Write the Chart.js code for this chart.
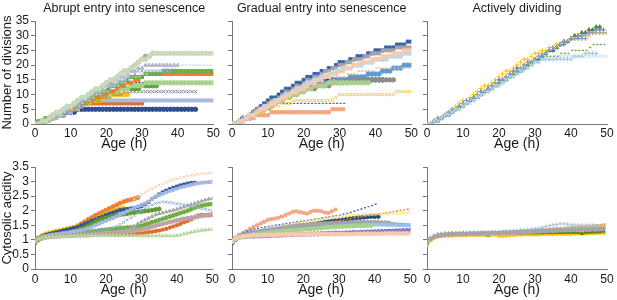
<!DOCTYPE html>
<html>
<head>
<meta charset="utf-8">
<script src="https://cdn.jsdelivr.net/npm/chart.js@4.4.1/dist/chart.umd.min.js"></script>
<style>
  body { margin: 0; background: #fff; width: 617px; height: 300px; position: relative; overflow: hidden; }
  canvas { position: absolute; }
</style>
</head>
<body>
<canvas id="acidAbrupt" width="222" height="150" style="left:0;top:150px"></canvas>
<canvas id="acidGradual" width="198" height="150" style="left:222px;top:150px"></canvas>
<canvas id="acidActive" width="200" height="150" style="left:417px;top:150px"></canvas>
<canvas id="divAbrupt" width="222" height="154" style="left:0;top:0"></canvas>
<canvas id="divGradual" width="198" height="154" style="left:222px;top:0"></canvas>
<canvas id="divActive" width="200" height="154" style="left:417px;top:0"></canvas>
<script>
// age in hours (x axis)
const hours = [0,1,2,3,4,5,6,7,8,9,10,11,12,13,14,15,16,17,18,19,20,21,22,23,24,25,26,27,28,29,30,31,32,33,34,35,36,37,38,39,40,41,42,43,44,45,46,47,48,49,50];

// ---- number of divisions, abrupt entry into senescence
const abNavy = [0,0,1,1,2,2,3,3,3,4,4,4,5,5,5,5,5,5,5,5,5,5,5,5,5,5,5,5,5,5,5,5,5,5,5,5,5,5,5,5,5,5,5,5,5,5];
const abLavender = [0,0,0,1,1,2,2,3,3,4,4,5,5,6,7,8,8,8,8,8,8,8,8,8,8,8,8,8,8,8,8,8,8,8,8,8,8,8,8,8,8,8,8,8,8,8,8,8,8,8,8];
const abOrange7 = [0,1,1,2,2,3,3,3,4,4,5,5,6,6,7,7,7,7,7,7,7,7,7,7,7,7,7,7,7,7,7];
const abOrange17 = [0,0,1,1,2,3,3,4,4,5,5,6,6,7,7,8,8,9,9,10,10,11,11,12,13,13,14,14,15,15,16,17,17,17,17,17,17,17,17,17,17,17,17,17,17,17,17,17,17,17,17];
const abYellow = [0,0,1,1,2,3,3,4,4,5,5,6,6,7,7,7,8,8,8,9,9,10,10,10,10,10,10];
const abGreen13 = [0,0,1,1,2,2,3,4,4,5,5,6,6,7,7,8,8,9,9,10,10,11,11,11,12,12,12,12,12,12,13,13,13,13,13];
const abPaleGreen14 = [0,0,1,1,2,2,3,3,4,5,5,6,6,7,7,8,8,9,9,10,10,10,11,11,12,12,12,13,13,13,13,14,14,14,14,14,14,14,14,14,14,14,14,14,14,14,14,14,14,14,14];
const abGreen18 = [0,1,1,2,2,3,3,4,4,5,6,6,7,7,8,8,9,10,10,11,11,12,13,13,14,14,15,16,16,16,16,17,17,17,17,17,18,18,18,18,18,18,18,18,18,18,18,18,18,18,18];
const abPale24 = [0,0,1,1,2,3,4,4,5,6,6,7,8,9,9,10,11,12,12,13,14,15,15,16,17,18,18,19,20,21,22,22,23,24,24,24,24,24,24,24,24,24,24,24,24,24,24,24,24,24,24];
const abGrey = [0,0,1,1,2,3,3,4,5,6,6,7,8,8,9,10,11,11,12,13,14,14,15,16,17,18,18,19,20,21,22,23,23,24];
const abTri20 = [0,0,1,1,2,3,3,4,5,5,6,7,7,8,9,9,10,11,11,12,13,13,14,15,16,16,17,18,18,19,19,20,20,20,20,20,20,20,20,20,20];
const abPaleBlue20 = [0,0,1,1,2,2,3,3,4,5,5,6,6,7,8,8,9,10,10,11,11,12,13,13,14,14,15,15,16,16,17,17,18,18,18,18,19,19,19,19,20,20,20,20,20,20,20,20,20,20,20];
const abBlueX18 = [0,0,1,1,2,2,3,4,4,5,5,6,7,7,8,9,9,10,11,11,12,13,13,14,15,15,16,16,17,18,18,18,18,18,18,18,18,18,18];
const abGreyX11 = [0,0,1,1,2,2,3,3,4,4,5,5,6,6,7,7,8,8,8,9,9,9,10,10,10,11,11,11,11,11,11,11,11,11,11,11,11,11,11,11,11,11,11,11,11,11];
const abDark14 = [0,1,1,2,2,3,3,4,4,5,6,6,7,7,8,8,9,10,10,11,12,12,13,13,14,14,14,14,14,14,14,14,14,14,14,14];

// ---- number of divisions, gradual entry into senescence
const grNavy = [0,0,1,1,2,3,4,5,6,7,8,9,9,10,11,12,12,13,14,14,15,16,16,17,17,18,18,19,19,20,21,21,21,22,22,23,23,23,24,24,25,25,25,26,26,26,27,27,27,28,28];
const grBlue20 = [0,0,1,1,2,2,3,4,5,5,6,7,7,8,8,9,10,10,11,11,12,12,13,13,14,14,14,14,15,15,15,15,15,16,16,16,16,16,17,17,17,17,18,18,18,19,19,19,20,20,20];
const grDarkNavy15 = [0,0,1,2,2,3,4,5,5,6,7,8,8,9,10,10,11,12,12,13,14,14,15,15,15,15,15,15,15,15,15,15,15,15,15,15,15,15,15,15,15,15,15];
const grGrey15 = [0,0,1,1,2,3,3,4,5,5,6,7,7,8,8,9,9,10,10,11,11,12,12,12,13,13,13,13,14,14,14,14,14,15,15,15,15,15,15,15,15,15,15,15,15,15];
const grSalmon = [0,0,1,1,2,2,2,3,3,3,3,4,4,4,4,4,4,4,4,4,4,4,4,4,4,4,4,4,5,5,5,5];
const grYellowX = [0,0,1,1,2,2,3,3,4,4,5,5,6,6,7,7,7,8,8,8,8,8,8,8,8,8,8,8,8,9,10,10,10,10,10,10,10,10,10,10,10,10,10,10,10,10,11,11,11,11,11];
const grPaleGreen14 = [0,0,1,1,2,3,3,4,5,5,6,6,7,8,8,9,9,10,10,11,11,12,12,13,13,13,13,14,14,14,14,14,14,14,14,14,14,14,14];
const grOrangeDash19 = [0,0,1,1,2,2,3,4,4,5,6,6,7,7,8,9,9,10,10,11,11,12,12,13,13,14,14,15,15,16,16,16,17,17,17,18,18,18,18,18,19,19,19,19,19,19,19,19,19,19,19];
const grPaleBlue24 = [0,0,1,1,2,3,3,4,5,6,6,7,8,8,9,10,10,11,12,12,13,14,14,15,15,16,16,17,17,18,18,19,19,19,20,20,20,21,21,21,22,22,22,22,23,23,23,23,24,24,24];
const grGrey26 = [0,0,1,2,2,3,4,5,5,6,7,8,8,9,10,11,11,12,13,13,14,15,15,16,16,17,18,18,19,19,20,20,21,21,22,22,22,23,23,24,24,24,25,25,25,25,26,26,26,26,26];
const grPeach25 = [0,0,1,1,2,3,3,4,5,5,6,7,7,8,9,9,10,11,11,12,12,13,14,14,15,15,16,16,17,17,18,18,19,19,20,20,21,21,21,22,22,22,23,23,23,24,24,24,25,25,25];
const grBlueDash7 = [0,0,1,1,2,2,3,3,4,5,5,6,7,7,7,7,7,7,7,7,7,7,7,7,7,7,7,7,7,7,7,7];

// ---- number of divisions, actively dividing
const acYellow = [0,0,1,2,2,3,4,5,6,7,8,8,9,10,11,12,13,13,14,15,16,17,18,18,19,20,21,22,22,23,24,24,25,25,26,26,27,27,28,28,29,29,29,30,30,30,31,31,31,31,31];
const acBlue = [0,0,1,1,2,3,4,4,5,6,7,8,8,9,10,11,11,12,13,14,15,15,16,17,18,19,19,20,21,21,22,23,23,24,25,25,26,27,27,28,29,29,30,30,31,31,31,32,32,32];
const acGreenTri = [0,0,1,1,2,3,3,4,5,6,6,7,8,9,9,10,11,12,12,13,14,15,15,16,17,18,18,19,20,21,22,22,23,24,25,25,26,27,28,28,29,30,30,31,31,32,32,33,33];
const acGreenDash = [0,0,1,1,2,3,3,4,5,6,6,7,8,8,9,10,11,11,12,13,14,14,15,16,17,17,18,19,20,20,21,22,22,23,23,23,23,24,24,24,25,25,25,25,25,26,27,27,27,27,27];
const acPaleBlue = [0,0,1,1,2,3,3,4,5,5,6,7,8,8,9,10,11,11,12,13,13,14,15,16,16,17,18,19,19,20,21,21,22,22,22,22,22,22,22,22,22,23,23,23,24,24,24,24];
const acPaleX = [0,0,1,1,2,3,3,4,5,5,6,7,7,8,9,10,10,11,12,13,13,14,15,16,16,17,18,18,19,20,21,21,22,22,22,22,23,23,23,23,23,23,23,23,23,23,23,23,23,23,23];
const acGrey = [0,0,1,1,2,3,4,4,5,6,7,7,8,9,10,10,11,12,13,14,14,15,16,17,17,18,19,20,21,21,22,23,24,24,25,26,26,27,28,28,29,29,30,30,30,31,31,31,31,31,31];
const acMidBlue = [0,0,1,2,2,3,4,5,5,6,7,8,8,9,10,11,11,12,13,14,14,15,16,17,17,18,19,20,20,21,22,23,23,24,25,26,26,27,28,28,29,29,29,29,29];

// ---- cytosolic acidity, abrupt
const aaOrange = [1.0,1.07,1.14,1.19,1.22,1.24,1.27,1.3,1.32,1.35,1.38,1.42,1.48,1.55,1.62,1.7,1.77,1.84,1.9,1.96,2.02,2.08,2.14,2.2,2.26,2.31,2.35,2.38,2.41,2.45];
const aaYellow = [0.98,1.08,1.15,1.2,1.24,1.27,1.3,1.32,1.35,1.38,1.41,1.44,1.47,1.5,1.54,1.59,1.64,1.7,1.76,1.82,1.88,1.94,1.99,2.03,2.07,2.1];
const aaNavy = [0.95,1.05,1.12,1.17,1.2,1.23,1.26,1.29,1.32,1.35,1.38,1.41,1.45,1.5,1.55,1.6,1.65,1.7,1.75,1.8,1.85,1.9,1.94,1.98,2.02,2.04,2.06,2.08,2.1,2.12,2.15,2.22,2.3,2.4,2.48,2.56,2.63,2.69,2.74,2.79,2.83,2.87,2.9,2.93,2.95,2.96];
const aaLavender = [0.95,1.05,1.1,1.13,1.15,1.17,1.19,1.21,1.23,1.25,1.27,1.29,1.31,1.33,1.36,1.4,1.45,1.5,1.55,1.6,1.65,1.7,1.75,1.8,1.86,1.92,1.98,2.04,2.1,2.15,2.2,2.25,2.32,2.4,2.47,2.53,2.58,2.63,2.68,2.72,2.76,2.8,2.83,2.86,2.89,2.92,2.94,2.96,2.97,2.98,2.99];
const aaPeachFrom = 28;
const aaPeach = [2.4,2.48,2.56,2.63,2.7,2.76,2.82,2.88,2.93,2.98,3.03,3.07,3.1,3.13,3.16,3.19,3.21,3.23,3.25,3.27,3.28,3.29,3.3];
const aaGreen = [0.92,1.02,1.08,1.12,1.15,1.17,1.19,1.2,1.21,1.22,1.23,1.24,1.25,1.26,1.27,1.28,1.29,1.3,1.32,1.33,1.35,1.36,1.37,1.38,1.4,1.41,1.42,1.43,1.44,1.46,1.48,1.52,1.56,1.6,1.64,1.68,1.72,1.76,1.8,1.84,1.88,1.92,1.96,2.0,2.05,2.1,2.14,2.17,2.2,2.22,2.23];
const aaDarkGreen = [0.9,1.0,1.06,1.1,1.13,1.15,1.17,1.19,1.21,1.23,1.26,1.29,1.33,1.37,1.42,1.48,1.55,1.62,1.68,1.72,1.75,1.78,1.81,1.84,1.86,1.88,1.9,1.92,1.94,1.96,1.97,1.99,2.0,2.02,2.04,2.06];
const aaGreyTri = [0.95,1.05,1.1,1.12,1.13,1.14,1.15,1.15,1.16,1.16,1.17,1.17,1.18,1.18,1.19,1.19,1.2,1.2,1.21,1.22,1.22,1.23,1.24,1.25,1.27,1.3,1.34,1.4,1.47,1.55,1.62,1.68,1.74,1.8,1.86,1.9,1.93,1.96,1.99,2.02,2.05,2.09,2.13,2.17,2.21,2.25,2.29,2.33,2.37,2.4,2.42];
const aaPaleGreenTri = [0.95,1.03,1.07,1.09,1.1,1.11,1.11,1.12,1.12,1.13,1.13,1.13,1.14,1.14,1.14,1.14,1.15,1.15,1.15,1.15,1.15,1.15,1.15,1.15,1.15,1.15,1.15,1.15,1.15,1.14,1.14,1.14,1.14,1.14,1.14,1.14,1.14,1.14,1.14,1.14,1.15,1.17,1.2,1.23,1.26,1.29,1.31,1.33,1.34,1.35,1.36];
const aaOrangeSq = [0.95,1.03,1.07,1.09,1.1,1.11,1.12,1.12,1.13,1.13,1.14,1.14,1.15,1.15,1.15,1.15,1.16,1.16,1.16,1.17,1.17,1.17,1.18,1.18,1.18,1.19,1.19,1.2,1.2,1.21,1.22,1.24,1.26,1.28,1.3,1.32,1.35,1.38,1.42,1.46,1.5,1.55,1.6,1.65,1.7,1.77,1.84,1.86,1.85,1.84,1.85];
const aaBlueX = [0.95,1.05,1.1,1.13,1.15,1.16,1.17,1.18,1.19,1.2,1.21,1.22,1.23,1.24,1.25,1.26,1.27,1.28,1.3,1.32,1.35,1.38,1.42,1.47,1.53,1.6,1.68,1.76,1.84,1.92,2.0,2.08,2.15,2.2,2.25,2.28,2.3,2.3,2.28,2.26,2.24,2.22,2.2,2.18,2.15,2.12,2.1,2.07,2.05,2.03,2.0];
const aaBrown = [0.95,1.02,1.06,1.08,1.1,1.11,1.12,1.13,1.13,1.14,1.15,1.15,1.16,1.17,1.17,1.18,1.19,1.2,1.2,1.21,1.22,1.23,1.24,1.25,1.26,1.27,1.28,1.3,1.32,1.34,1.36,1.39,1.42,1.45,1.48,1.52,1.55,1.58,1.61,1.64,1.67,1.7,1.72,1.74,1.76,1.78,1.8,1.82,1.84,1.86,1.88];

// ---- cytosolic acidity, gradual
const gaSalmon = [1.0,1.08,1.18,1.23,1.3,1.38,1.44,1.5,1.56,1.62,1.68,1.71,1.73,1.76,1.8,1.85,1.9,1.96,1.98,1.95,1.93,1.9,1.96,2.0,2.0,1.98,1.94,1.92,1.98,2.04];
const gaNavy = [0.9,1.02,1.1,1.13,1.15,1.17,1.19,1.21,1.23,1.25,1.28,1.3,1.32,1.34,1.36,1.38,1.4,1.42,1.44,1.46,1.48,1.5,1.52,1.54,1.56,1.58,1.6,1.62,1.64,1.65,1.66,1.68,1.7,1.72,1.74,1.76,1.77,1.78,1.79,1.8,1.8,1.8];
const gaBlueDash = [1.0,1.1,1.18,1.25,1.3,1.34,1.37,1.4,1.42,1.44,1.46,1.48,1.5,1.52,1.54,1.56,1.58,1.6,1.62,1.64,1.65,1.67,1.69,1.71,1.73,1.75,1.77,1.79,1.81,1.83,1.85,1.88,1.91,1.94,1.98,2.02,2.06,2.1,2.14,2.18,2.22];
const gaOrangeDash = [0.95,1.05,1.1,1.13,1.15,1.17,1.19,1.21,1.23,1.25,1.27,1.29,1.31,1.33,1.35,1.37,1.39,1.41,1.43,1.45,1.47,1.49,1.51,1.53,1.55,1.57,1.59,1.61,1.63,1.65,1.67,1.69,1.71,1.73,1.75,1.77,1.79,1.81,1.83,1.85,1.87,1.89,1.91,1.93,1.95,1.97,1.99,2.01,2.03,2.05,2.07];
const gaYellowX = [0.95,1.04,1.1,1.13,1.16,1.19,1.22,1.25,1.28,1.31,1.34,1.37,1.4,1.43,1.46,1.49,1.52,1.55,1.57,1.59,1.61,1.63,1.65,1.67,1.69,1.71,1.73,1.75,1.77,1.79,1.8,1.81,1.82,1.83,1.84,1.85,1.85,1.86,1.86,1.87,1.87,1.88,1.88,1.89,1.89,1.9,1.9,1.91,1.92,1.93,1.95];
const gaPaleBlue = [0.95,1.05,1.1,1.13,1.15,1.17,1.19,1.2,1.22,1.23,1.25,1.26,1.28,1.29,1.3,1.31,1.32,1.33,1.34,1.35,1.36,1.37,1.38,1.39,1.4,1.41,1.42,1.43,1.44,1.45,1.46,1.47,1.48,1.49,1.5,1.5,1.51,1.51,1.52,1.52,1.52,1.52,1.52,1.52,1.51,1.51,1.5,1.5,1.5,1.5,1.5];
const gaBlueLow = [0.92,1.05,1.1,1.12,1.13,1.14,1.14,1.15,1.15,1.16,1.16,1.17,1.17,1.17,1.18,1.18,1.18,1.18,1.19,1.19,1.19,1.19,1.2,1.2,1.2,1.21,1.21,1.21,1.22,1.22,1.23,1.23,1.24,1.24,1.25,1.25,1.26,1.26,1.27,1.27,1.28,1.28,1.29,1.29,1.3,1.3,1.31,1.31,1.32,1.32,1.33];
const gaPurple = [0.93,1.04,1.08,1.1,1.11,1.12,1.12,1.13,1.13,1.14,1.14,1.15,1.15,1.16,1.16,1.17,1.17,1.18,1.18,1.19,1.19,1.2,1.2,1.21,1.21,1.22,1.22,1.23,1.23,1.24,1.22,1.23,1.23,1.24,1.24,1.25,1.25,1.26,1.26,1.27,1.27,1.28,1.28,1.28,1.29,1.29,1.29,1.3,1.3,1.3,1.31];
const gaGrey = [0.95,1.06,1.12,1.16,1.19,1.22,1.25,1.27,1.29,1.31,1.33,1.35,1.37,1.39,1.41,1.43,1.45,1.47,1.49,1.5,1.51,1.52,1.53,1.54,1.55,1.55,1.56,1.56,1.57,1.57,1.58,1.58,1.58,1.59,1.59,1.59,1.6,1.6,1.6,1.6,1.6,1.6,1.59,1.59,1.58];
const gaPaleGreen = [0.95,1.04,1.08,1.11,1.13,1.15,1.17,1.19,1.2,1.22,1.23,1.25,1.26,1.28,1.29,1.31,1.32,1.33,1.34,1.35,1.36,1.37,1.38,1.39,1.4,1.41,1.42,1.43,1.44,1.45,1.45,1.46,1.46,1.47,1.47,1.48,1.48,1.48,1.49,1.49];
const gaPink = [0.95,1.05,1.1,1.12,1.13,1.14,1.15,1.15,1.16,1.16,1.17,1.17,1.17,1.18,1.18,1.18,1.18,1.19,1.19,1.19,1.19,1.19,1.2,1.2,1.2,1.2,1.2,1.2,1.2,1.2,1.2,1.2,1.2,1.2,1.2,1.21,1.21,1.21,1.21,1.21,1.21,1.21,1.21,1.22,1.22,1.22,1.22,1.22,1.22,1.22,1.22];
const gaBlueSq = [0.92,1.06,1.13,1.18,1.21,1.24,1.26,1.28,1.3,1.32,1.33,1.35,1.36,1.38,1.39,1.4,1.42,1.43,1.44,1.45,1.46,1.47,1.48,1.49,1.5,1.51,1.52,1.53,1.54,1.55,1.56,1.57,1.58,1.59,1.6,1.6,1.6,1.6,1.6,1.6,1.59,1.58,1.57,1.56,1.55,1.54,1.53,1.52,1.52,1.51,1.5];

// ---- cytosolic acidity, actively dividing
const caGreenDash = [0.9,1.05,1.12,1.16,1.18,1.2,1.21,1.22,1.22,1.23,1.23,1.24,1.24,1.24,1.25,1.25,1.25,1.26,1.26,1.26,1.27,1.27,1.28,1.28,1.29,1.3,1.31,1.32,1.33,1.34,1.35,1.36,1.37,1.38,1.39,1.4,1.41,1.42,1.43,1.44,1.45,1.46,1.47,1.48,1.49,1.5,1.51,1.52,1.53,1.54,1.55];
const caPaleBlue = [0.92,1.08,1.15,1.19,1.21,1.22,1.23,1.23,1.24,1.24,1.25,1.25,1.25,1.26,1.26,1.26,1.27,1.27,1.27,1.28,1.28,1.29,1.3,1.31,1.32,1.33,1.34,1.35,1.36,1.37,1.38,1.4,1.43,1.46,1.49,1.51,1.53,1.55,1.55,1.54,1.52,1.51,1.51,1.5,1.5,1.5,1.5,1.49];
const caBlue = [0.92,1.02,1.1,1.14,1.16,1.17,1.18,1.18,1.19,1.19,1.2,1.2,1.2,1.21,1.21,1.21,1.22,1.22,1.22,1.23,1.23,1.23,1.24,1.24,1.25,1.25,1.26,1.26,1.27,1.28,1.29,1.3,1.31,1.32,1.33,1.34,1.35,1.35,1.36,1.36,1.37,1.37,1.38,1.38,1.39,1.4,1.41,1.42,1.43,1.45];
const caOrange = [0.93,1.04,1.1,1.13,1.15,1.16,1.17,1.17,1.18,1.18,1.19,1.19,1.19,1.2,1.2,1.2,1.21,1.21,1.21,1.22,1.22,1.22,1.23,1.23,1.24,1.25,1.26,1.27,1.28,1.29,1.3,1.31,1.32,1.33,1.34,1.34,1.35,1.36,1.36,1.37,1.38,1.39,1.4,1.41,1.42,1.43,1.44,1.45,1.46,1.47];
const caYellow = [0.85,1.0,1.08,1.12,1.14,1.15,1.16,1.16,1.17,1.17,1.17,1.17,1.18,1.18,1.18,1.18,1.18,1.18,1.19,1.19,1.15,1.15,1.16,1.17,1.18,1.19,1.19,1.2,1.2,1.2,1.2,1.2,1.21,1.21,1.21,1.21,1.22,1.22,1.22,1.22,1.22,1.23,1.23,1.23,1.23,1.24,1.24,1.24,1.25,1.25];
const caDarkGreen = [0.9,1.05,1.13,1.18,1.2,1.21,1.22,1.22,1.22,1.22,1.22,1.22,1.22,1.22,1.22,1.22,1.22,1.16,1.22,1.22,1.22,1.22,1.22,1.23,1.23,1.23,1.23,1.24,1.24,1.24,1.24,1.24,1.24,1.25,1.25,1.25,1.25,1.25,1.25,1.26,1.26,1.26,1.26,1.22,1.26,1.26,1.27,1.27,1.28,1.3];
const caGrey = [0.9,1.03,1.1,1.14,1.16,1.18,1.19,1.2,1.2,1.21,1.21,1.21,1.22,1.22,1.22,1.23,1.23,1.23,1.24,1.24,1.24,1.25,1.25,1.25,1.26,1.26,1.27,1.27,1.28,1.28,1.3,1.29,1.31,1.3,1.32,1.31,1.32,1.33,1.33,1.34,1.34,1.35,1.35,1.36,1.36,1.36,1.37,1.37,1.38,1.38];

const FONT = '"Liberation Sans", Arial, sans-serif';

function points(vals, from) {
  return vals.map((v, i) => ({ x: hours[from + i], y: v }));
}

function panel(id, series, o) {
  new Chart(document.getElementById(id), {
    type: 'line',
    data: {
      datasets: series.map(s => ({
        data: points(s.vals, s.from || 0),
        showLine: false,
        pointStyle: s.style,
        pointRadius: s.r || o.r,
        pointBorderWidth: s.style === 'dash' ? 1.4 : 1,
        backgroundColor: s.color,
        borderColor: s.color
      }))
    },
    options: {
      responsive: false,
      animation: false,
      events: [],
      layout: { padding: o.pad },
      plugins: {
        legend: { display: false },
        tooltip: { enabled: false },
        title: {
          display: !!o.title,
          text: o.title,
          fullSize: false,
          color: '#1a1a1a',
          font: { family: FONT, size: 12.5, weight: 'normal' },
          padding: { top: 0, bottom: 5 }
        }
      },
      scales: {
        x: {
          type: 'linear', min: 0, max: 50,
          ticks: { stepSize: 10, color: '#1a1a1a', font: { family: FONT, size: 12 }, padding: o.xpad, maxRotation: 0, autoSkip: false },
          grid: { display: false, drawTicks: false },
          border: { color: '#777', width: 1 },
          title: { display: true, text: 'Age (h)', color: '#1a1a1a', font: { family: FONT, size: 14 }, padding: { top: 0, bottom: 1 } },
          afterFit: a => { a.height = o.xh; }
        },
        y: {
          min: 0, max: o.ymax,
          ticks: { stepSize: o.step, autoSkip: false, color: '#1a1a1a', font: { family: FONT, size: 12 }, padding: 2,
                   callback: o.ytitle ? (v => v) : (() => '') },
          grid: { drawOnChartArea: false, tickLength: 4, color: '#777' },
          border: { color: '#777', width: 1 },
          title: { display: !!o.ytitle, text: o.ytitle, color: '#1a1a1a', font: { family: FONT, size: 13 }, padding: { top: 0, bottom: 0 } },
          afterFit: a => { a.width = o.yw; }
        }
      }
    }
  });
}

const top1 = { r: 2.2, ymax: 35, step: 5, xh: 30, xpad: 2 };
const bot1 = { r: 2, ymax: 3.5, step: 0.5, xh: 31, xpad: 3 };

panel('divAbrupt', [
  { vals: abPale24, color: '#C9D9BC', style: 'circle' },
  { vals: abPaleBlue20, color: '#BDD7EE', style: 'dash' },
  { vals: abTri20, color: '#B4B4C8', style: 'triangle' },
  { vals: abBlueX18, color: '#8FAADC', style: 'crossRot' },
  { vals: abGrey, color: '#A6A6A6', style: 'circle' },
  { vals: abGreen18, color: '#70AD47', style: 'rect' },
  { vals: abOrange17, color: '#ED7D31', style: 'rect' },
  { vals: abPaleGreen14, color: '#A9D18E', style: 'circle' },
  { vals: abDark14, color: '#595959', style: 'dash' },
  { vals: abGreen13, color: '#5FA03A', style: 'circle' },
  { vals: abGreyX11, color: '#7F7F9F', style: 'crossRot' },
  { vals: abYellow, color: '#FFC000', style: 'circle' },
  { vals: abLavender, color: '#A9B8E2', style: 'rect' },
  { vals: abOrange7, color: '#E46C2A', style: 'rect' },
  { vals: abNavy, color: '#2F4D93', style: 'circle' }
], Object.assign({ title: 'Abrupt entry into senescence', ytitle: 'Number of divisions', yw: 35, pad: { top: 1, right: 7, left: 0, bottom: 0 } }, top1));

panel('divGradual', [
  { vals: grPeach25, color: '#F8CBAD', style: 'rect' },
  { vals: grPaleBlue24, color: '#BDD7EE', style: 'circle' },
  { vals: grGrey26, color: '#A5A5A5', style: 'rect' },
  { vals: grOrangeDash19, color: '#F4B183', style: 'dash' },
  { vals: grPaleGreen14, color: '#A9D18E', style: 'circle' },
  { vals: grGrey15, color: '#8C8C8C', style: 'circle' },
  { vals: grYellowX, color: '#F5C342', style: 'crossRot' },
  { vals: grSalmon, color: '#F4A582', style: 'rect' },
  { vals: grBlueDash7, color: '#4472C4', style: 'dash' },
  { vals: grBlue20, color: '#5B9BD5', style: 'circle' },
  { vals: grDarkNavy15, color: '#1F3864', style: 'circle' },
  { vals: grNavy, color: '#3A62B0', style: 'rect' }
], Object.assign({ title: 'Gradual entry into senescence', yw: 10, pad: { top: 1, right: 7, left: 0, bottom: 0 } }, top1));

panel('divActive', [
  { vals: acPaleX, color: '#BDD7EE', style: 'crossRot' },
  { vals: acPaleBlue, color: '#9DC3E6', style: 'cross' },
  { vals: acGreenDash, color: '#70AD47', style: 'dash' },
  { vals: acGrey, color: '#A5A5A5', style: 'cross' },
  { vals: acMidBlue, color: '#5B9BD5', style: 'cross' },
  { vals: acBlue, color: '#4472C4', style: 'cross' },
  { vals: acGreenTri, color: '#548235', style: 'triangle' },
  { vals: acYellow, color: '#FFC000', style: 'cross', r: 2.5 }
], Object.assign({ title: 'Actively dividing', yw: 10, pad: { top: 1, right: 10, left: 0, bottom: 0 } }, top1));

panel('acidAbrupt', [
  { vals: aaPeach, from: aaPeachFrom, color: '#F8CBAD', style: 'crossRot' },
  { vals: aaPaleGreenTri, color: '#B5D99C', style: 'triangle' },
  { vals: aaBrown, color: '#B9A3A3', style: 'circle' },
  { vals: aaLavender, color: '#A4B7E1', style: 'rect' },
  { vals: aaBlueX, color: '#8FAADC', style: 'crossRot' },
  { vals: aaGreyTri, color: '#A5A5A5', style: 'triangle' },
  { vals: aaOrangeSq, color: '#E26B2B', style: 'rect' },
  { vals: aaDarkGreen, color: '#5A9A32', style: 'circle' },
  { vals: aaGreen, color: '#70AD47', style: 'circle' },
  { vals: aaNavy, color: '#2F5597', style: 'rect' },
  { vals: aaYellow, color: '#FFC000', style: 'circle' },
  { vals: aaOrange, color: '#ED7D31', style: 'circle' }
], Object.assign({ ytitle: 'Cytosolic acidity', yw: 35, pad: { top: 17, right: 7, left: 0, bottom: 0 } }, bot1));

panel('acidGradual', [
  { vals: gaPink, color: '#F8CBAD', style: 'circle' },
  { vals: gaPaleGreen, color: '#A9D18E', style: 'circle' },
  { vals: gaPurple, color: '#8E7CC3', style: 'circle' },
  { vals: gaBlueLow, color: '#4472C4', style: 'circle' },
  { vals: gaPaleBlue, color: '#9DC3E6', style: 'rect' },
  { vals: gaGrey, color: '#A5A5A5', style: 'circle' },
  { vals: gaYellowX, color: '#FFD966', style: 'crossRot' },
  { vals: gaOrangeDash, color: '#ED7D31', style: 'dash' },
  { vals: gaBlueSq, color: '#5B9BD5', style: 'rect' },
  { vals: gaBlueDash, color: '#4472C4', style: 'dash' },
  { vals: gaSalmon, color: '#F4A582', style: 'rect' },
  { vals: gaNavy, color: '#1F4E79', style: 'circle' }
], Object.assign({ yw: 10, pad: { top: 17, right: 7, left: 0, bottom: 0 } }, bot1));

panel('acidActive', [
  { vals: caGrey, color: '#A5A5A5', style: 'circle' },
  { vals: caPaleBlue, color: '#9DC3E6', style: 'cross' },
  { vals: caOrange, color: '#F4B183', style: 'circle' },
  { vals: caBlue, color: '#4472C4', style: 'cross' },
  { vals: caGreenDash, color: '#70AD47', style: 'dash' },
  { vals: caDarkGreen, color: '#548235', style: 'triangle' },
  { vals: caYellow, color: '#FFC000', style: 'circle' }
], Object.assign({ yw: 10, pad: { top: 17, right: 10, left: 0, bottom: 0 } }, bot1));
</script>
</body>
</html>
